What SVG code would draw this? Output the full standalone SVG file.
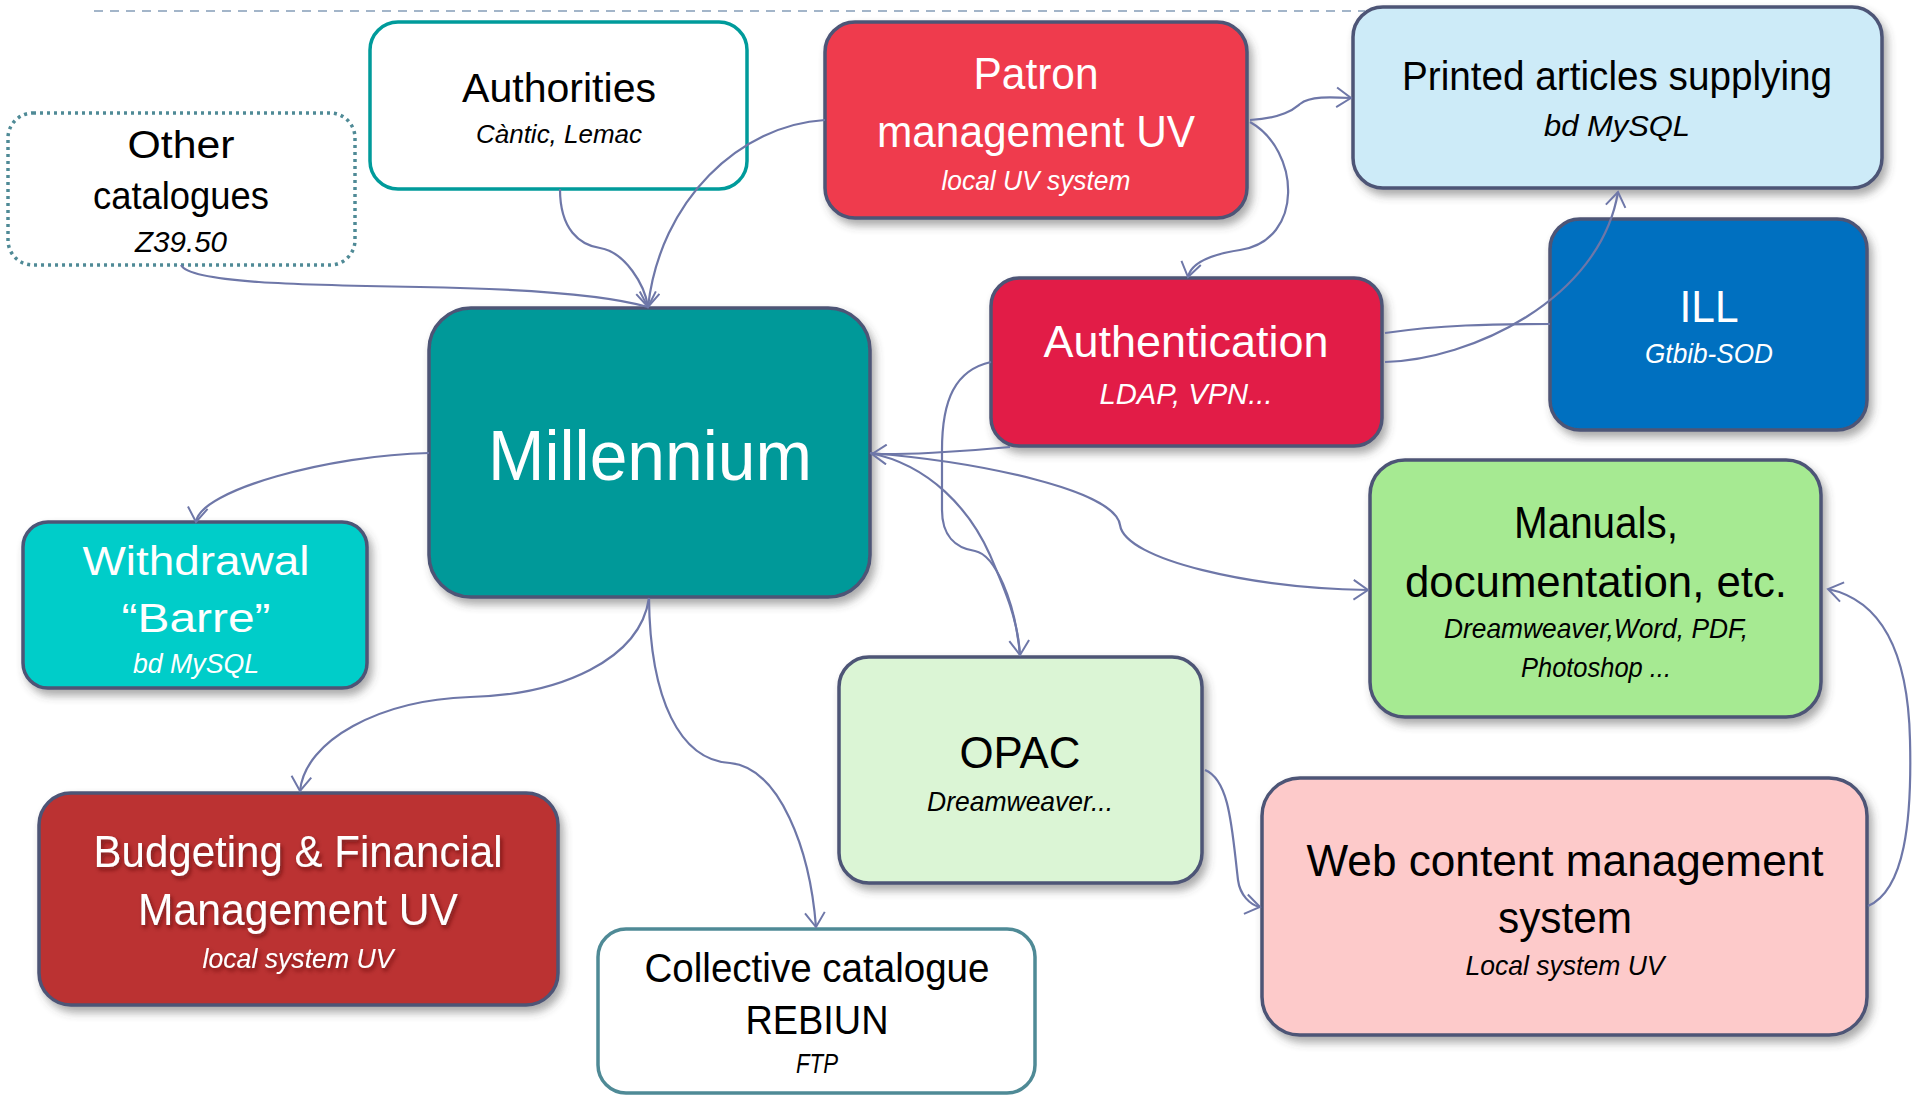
<svg xmlns="http://www.w3.org/2000/svg" width="1915" height="1095" viewBox="0 0 1915 1095">
<style>
.box{stroke:#4D5476;stroke-width:3.5}
.t{font-family:"Liberation Sans",Arial,sans-serif;text-anchor:middle}
.i{font-style:italic}
.w{fill:#ffffff}
.k{fill:#000000}
.c{fill:none;stroke:#6E77A8;stroke-width:2.2}
</style>
<defs>
<filter id="sh" x="-10%" y="-10%" width="125%" height="130%">
<feDropShadow dx="4" dy="6" stdDeviation="4" flood-color="#444" flood-opacity="0.45"/>
</filter>
<filter id="ts" x="-5%" y="-20%" width="110%" height="150%">
<feDropShadow dx="2" dy="3" stdDeviation="2" flood-color="#5a0a0a" flood-opacity="0.7"/>
</filter>
<marker id="ah" viewBox="0 0 20 24" markerWidth="18" markerHeight="22" refX="17" refY="12" orient="auto" markerUnits="userSpaceOnUse">
<path d="M1,1 L17,12 L1,23" fill="none" stroke="#6E77A8" stroke-width="2.2"/>
</marker>
</defs>
<line x1="94" y1="11" x2="1365" y2="11" stroke="#A3B5C9" stroke-width="2" stroke-dasharray="9,7"/>
<g id="other-catalogues">
<rect x="8" y="113" width="347" height="152" rx="25" fill="#ffffff" stroke="#4F8A96" stroke-width="3.5" stroke-dasharray="3,4"/>
<text class="t k" x="181" y="158" font-size="38" textLength="107" lengthAdjust="spacingAndGlyphs">Other</text>
<text class="t k" x="181" y="209" font-size="38" textLength="176" lengthAdjust="spacingAndGlyphs">catalogues</text>
<text class="t k i" x="181" y="252" font-size="30" textLength="92" lengthAdjust="spacingAndGlyphs">Z39.50</text>
</g>
<g id="authorities">
<rect x="370" y="22" width="377" height="167" rx="28" fill="#ffffff" stroke="#009B9B" stroke-width="3.5"/>
<text class="t k" x="559" y="102" font-size="40" textLength="194" lengthAdjust="spacingAndGlyphs">Authorities</text>
<text class="t k i" x="559" y="143" font-size="26" textLength="166" lengthAdjust="spacingAndGlyphs">Càntic, Lemac</text>
</g>
<g id="patron">
<rect class="box" x="825" y="22" width="422" height="196" rx="30" fill="#EF3B4E" filter="url(#sh)"/>
<text class="t w" x="1036" y="89" font-size="44" textLength="125" lengthAdjust="spacingAndGlyphs">Patron</text>
<text class="t w" x="1036" y="147" font-size="44" textLength="318" lengthAdjust="spacingAndGlyphs">management UV</text>
<text class="t w i" x="1036" y="190" font-size="28" textLength="189" lengthAdjust="spacingAndGlyphs">local UV system</text>
</g>
<g id="printed">
<rect class="box" x="1353" y="7" width="529" height="181" rx="30" fill="#CDEBF8" filter="url(#sh)"/>
<text class="t k" x="1617" y="90" font-size="40" textLength="430" lengthAdjust="spacingAndGlyphs">Printed articles supplying</text>
<text class="t k i" x="1617" y="136" font-size="30" textLength="146" lengthAdjust="spacingAndGlyphs">bd MySQL</text>
</g>
<g id="ill">
<rect class="box" x="1550" y="219" width="317" height="211" rx="30" fill="#0070C0" filter="url(#sh)"/>
<text class="t w" x="1709" y="322" font-size="44" textLength="59" lengthAdjust="spacingAndGlyphs">ILL</text>
<text class="t w i" x="1709" y="363" font-size="28" textLength="128" lengthAdjust="spacingAndGlyphs">Gtbib-SOD</text>
</g>
<g id="authentication">
<rect class="box" x="991" y="278" width="391" height="168" rx="28" fill="#E21C47" filter="url(#sh)"/>
<text class="t w" x="1186" y="357" font-size="44" textLength="285" lengthAdjust="spacingAndGlyphs">Authentication</text>
<text class="t w i" x="1186" y="404" font-size="30" textLength="173" lengthAdjust="spacingAndGlyphs">LDAP, VPN...</text>
</g>
<g id="millennium">
<rect class="box" x="429" y="308" width="441" height="289" rx="42" fill="#009999" filter="url(#sh)"/>
<text class="t w" x="650" y="480" font-size="70" textLength="324" lengthAdjust="spacingAndGlyphs">Millennium</text>
</g>
<g id="withdrawal">
<rect class="box" x="23" y="522" width="344" height="166" rx="25" fill="#00CDC9" filter="url(#sh)"/>
<text class="t w" x="196" y="575" font-size="40" textLength="227" lengthAdjust="spacingAndGlyphs">Withdrawal</text>
<text class="t w" x="196" y="632" font-size="40" textLength="149" lengthAdjust="spacingAndGlyphs">“Barre”</text>
<text class="t w i" x="196" y="673" font-size="28" textLength="126" lengthAdjust="spacingAndGlyphs">bd MySQL</text>
</g>
<g id="manuals">
<rect class="box" x="1370" y="460" width="451" height="257" rx="35" fill="#A6EA92" filter="url(#sh)"/>
<text class="t k" x="1596" y="538" font-size="44" textLength="164" lengthAdjust="spacingAndGlyphs">Manuals,</text>
<text class="t k" x="1596" y="597" font-size="44" textLength="382" lengthAdjust="spacingAndGlyphs">documentation, etc.</text>
<text class="t k i" x="1596" y="638" font-size="28" textLength="304" lengthAdjust="spacingAndGlyphs">Dreamweaver,Word, PDF,</text>
<text class="t k i" x="1596" y="677" font-size="28" textLength="150" lengthAdjust="spacingAndGlyphs">Photoshop ...</text>
</g>
<g id="opac">
<rect class="box" x="839" y="657" width="363" height="226" rx="30" fill="#DBF5D5" filter="url(#sh)"/>
<text class="t k" x="1020" y="768" font-size="44" textLength="121" lengthAdjust="spacingAndGlyphs">OPAC</text>
<text class="t k i" x="1020" y="811" font-size="28" textLength="186" lengthAdjust="spacingAndGlyphs">Dreamweaver...</text>
</g>
<g id="web-cms">
<rect class="box" x="1262" y="778" width="605" height="257" rx="38" fill="#FDCACA" filter="url(#sh)"/>
<text class="t k" x="1565" y="876" font-size="44" textLength="517" lengthAdjust="spacingAndGlyphs">Web content management</text>
<text class="t k" x="1565" y="933" font-size="44" textLength="134" lengthAdjust="spacingAndGlyphs">system</text>
<text class="t k i" x="1565" y="975" font-size="28" textLength="199" lengthAdjust="spacingAndGlyphs">Local system UV</text>
</g>
<g id="budgeting">
<rect class="box" x="39" y="793" width="519" height="212" rx="32" fill="#BB3033" filter="url(#sh)"/>
<g filter="url(#ts)">
<text class="t w" x="298" y="867" font-size="44" textLength="409" lengthAdjust="spacingAndGlyphs">Budgeting &amp; Financial</text>
<text class="t w" x="298" y="925" font-size="44" textLength="320" lengthAdjust="spacingAndGlyphs">Management UV</text>
<text class="t w i" x="298" y="968" font-size="28" textLength="191" lengthAdjust="spacingAndGlyphs">local system UV</text>
</g>
</g>
<g id="collective">
<rect x="598" y="929" width="437" height="164" rx="28" fill="#ffffff" stroke="#4F8A96" stroke-width="3.5"/>
<text class="t k" x="817" y="982" font-size="40" textLength="345" lengthAdjust="spacingAndGlyphs">Collective catalogue</text>
<text class="t k" x="817" y="1034" font-size="40" textLength="143" lengthAdjust="spacingAndGlyphs">REBIUN</text>
<text class="t k i" x="817" y="1073" font-size="28" textLength="42" lengthAdjust="spacingAndGlyphs">FTP</text>
</g>
<g id="connectors">
<path class="c" d="M181,265 C190,283 300,285 420,287 C540,289 610,296 648,307"/>
<path class="c" d="M560,189 C560,230 580,245 600,248 C625,252 645,285 648,307" marker-end="url(#ah)"/>
<path class="c" d="M825,120 C740,125 660,200 648,307" marker-end="url(#ah)"/>
<path class="c" d="M1250,120 C1285,118 1295,108 1300,104 C1310,96 1330,97 1351,98" marker-end="url(#ah)"/>
<path class="c" d="M1250,122 C1300,150 1305,240 1240,250 C1200,256 1190,268 1188,277" marker-end="url(#ah)"/>
<path class="c" d="M1385,362 C1470,360 1600,300 1618,192" marker-end="url(#ah)"/>
<path class="c" d="M1385,333 C1440,325 1490,324 1550,324"/>
<path class="c" d="M1010,447 C960,452 900,455 872,454" marker-end="url(#ah)"/>
<path class="c" d="M991,362 C955,370 942,400 942,450 L942,510 C942,535 955,548 975,551 C995,555 1015,600 1020,655"/>
<path class="c" d="M870,453 C930,465 970,510 990,555 C1005,590 1018,620 1020,655" marker-end="url(#ah)"/>
<path class="c" d="M870,453 C980,462 1115,490 1120,525 C1125,560 1250,588 1368,590" marker-end="url(#ah)"/>
<path class="c" d="M429,453 C330,455 200,490 196,522" marker-end="url(#ah)"/>
<path class="c" d="M649,598 C640,660 560,695 470,697 C380,700 305,740 300,791" marker-end="url(#ah)"/>
<path class="c" d="M649,598 C650,700 680,760 730,763 C780,768 810,850 816,927" marker-end="url(#ah)"/>
<path class="c" d="M1205,770 C1230,780 1232,830 1238,880 C1240,895 1250,905 1260,907" marker-end="url(#ah)"/>
<path class="c" d="M1868,906 C1905,890 1912,820 1910,740 C1908,650 1880,600 1828,589" marker-end="url(#ah)"/>
</g>
</svg>
